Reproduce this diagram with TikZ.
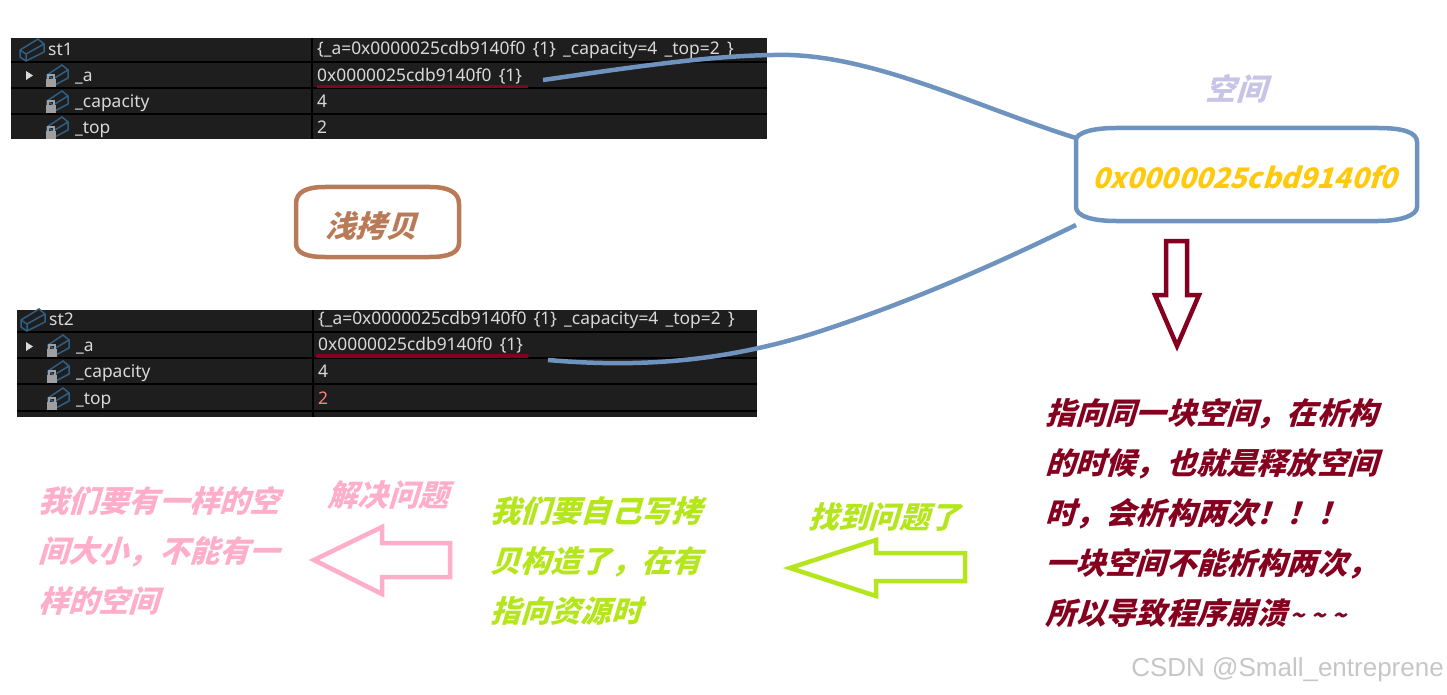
\documentclass[tikz,border=0pt]{standalone}
\usepackage{fontspec}
\setmainfont{Noto Sans}[WordSpace=1.6]
\newfontfamily\cjkfont[FakeSlant=0.3,BoldFeatures={FakeSlant=0.3}]{Noto Sans CJK SC}
\newfontfamily\markfont{Liberation Sans}
\definecolor{panelbg}{HTML}{1E1E1E}
\definecolor{linkblue}{HTML}{6F93BF}
\definecolor{wine}{HTML}{85001E}
\definecolor{brownish}{HTML}{B97A57}
\definecolor{lavender}{HTML}{C8C4E8}
\definecolor{amber}{HTML}{FFC90E}
\definecolor{pinkish}{HTML}{FFAEC9}
\definecolor{limey}{HTML}{B5E61D}
\definecolor{cubeblue}{HTML}{2F5F85}
\tikzset{
  rowtext/.style={anchor=west,inner sep=0pt,text height=15pt,text depth=4pt,text=white!85!black,font=\fontsize{17.4}{20}\selectfont},
  note/.style={inner sep=0pt,font=\cjkfont\bfseries\fontsize{30.2}{50}\selectfont},
  para/.style={note,anchor=north west,align=left},
  link/.style={draw=linkblue,line width=4.5pt},
  hollow/.style={line width=4.5pt,fill=white,line join=miter},
  varicon/.pic={
    \draw[cubeblue,line width=1.5pt] (-11,0) -- (7,-11) -- (13,-6) -- (13,2) -- (-5,11) -- (-11,7) -- cycle;
    \draw[cubeblue,line width=1.5pt] (-11,0) -- (-5,4) -- (13,-6) (-5,4) -- (-5,11);
  },
  lockicon/.pic={
    \draw[cubeblue,line width=1.5pt] (-9,-1) -- (6,-11) -- (12,-6) -- (12,2) -- (-3,10) -- (-9,6) -- cycle;
    \draw[cubeblue,line width=1.5pt] (-9,-1) -- (-3,3) -- (12,-6) (-3,3) -- (-3,10);
    \fill[gray!75] (-10,3) rectangle (0,11);
    \draw[gray!75,line width=1.2pt] (-8,3) -- (-8,-1) -- (-2,-1) -- (-2,3);
  }
}
\begin{document}
\begin{tikzpicture}[x=1pt,y=-1pt]
\useasboundingbox (0,0) rectangle (1447,695);
% first watch panel
\fill[panelbg] (11,38) rectangle (767,139);
\draw[black,line width=1.5pt] (11,62) -- (767,62) (11,88) -- (767,88) (11,114) -- (767,114) (312,38) -- (312,139);
\pic at (31,50) {varicon};
\pic at (56,76) {lockicon};
\pic at (56,102) {lockicon};
\pic at (56,128) {lockicon};
\fill[white!85!black] (26,71) -- (33,75.5) -- (26,80) -- cycle;
\node[rowtext] (stonename) at (48,50) {st1};
\node[rowtext] (stoneval) at (317,49) {\{\_a=0x0000025cdb9140f0 \{1\} \_capacity=4 \_top=2 \}};
\node[rowtext] (aname) at (75,76) {\_a};
\node[rowtext] (aval) at (317,76) {0x0000025cdb9140f0 \{1\}};
\node[rowtext] (capname) at (75,102) {\_capacity};
\node[rowtext] (capval) at (317,102) {4};
\node[rowtext] (topname) at (75,128) {\_top};
\node[rowtext] (topval) at (317,128) {2};
\draw[wine,line width=3pt] (317,87) -- (528,87);
% second watch panel
\fill[panelbg] (17,310) rectangle (757,417);
\draw[black,line width=1.5pt] (17,332) -- (757,332) (17,358) -- (757,358) (17,384) -- (757,384) (17,411) -- (757,411) (313,310) -- (313,417);
\pic at (32,320) {varicon};
\pic at (57,346) {lockicon};
\pic at (57,372) {lockicon};
\pic at (57,399) {lockicon};
\fill[white!85!black] (26,342) -- (33,346.5) -- (26,351) -- cycle;
\node[rowtext] (sttwoname) at (49,320) {st2};
\node[rowtext] (sttwoval) at (318,319) {\{\_a=0x0000025cdb9140f0 \{1\} \_capacity=4 \_top=2 \}};
\node[rowtext] (bname) at (76,346) {\_a};
\node[rowtext] (bval) at (318,345) {0x0000025cdb9140f0 \{1\}};
\node[rowtext] (bcapname) at (76,372) {\_capacity};
\node[rowtext] (bcapval) at (318,372) {4};
\node[rowtext] (btopname) at (76,399) {\_top};
\node[rowtext,text=red!50!white] (btopval) at (318,399) {2};
\draw[wine,line width=3.5pt,line cap=round] (317,356) -- (527,356);
% shallow copy tag
\draw[brownish,line width=4.5pt] (325,187) -- (430,187) .. controls (448,187) and (459,192) .. (459,204) -- (459,243) .. controls (459,253) and (448,257) .. (430,257) -- (325,257) .. controls (306,257) and (296,253) .. (296,243) -- (296,204) .. controls (296,192) and (306,187) .. (325,187) -- cycle;
\node[note,text=brownish] (shallow) at (371,226) {浅拷贝};
% the shared address
\node[note,text=lavender] (spacelabel) at (1236,89) {空间};
\node[minimum width=341pt,minimum height=93pt,text height=29pt,text depth=0pt,text=amber,note,outer sep=0pt] (addrbox) at (1244.5,174.5) {\fontsize{28.3}{30}\selectfont 0x0000025cbd9140f0};
\draw[link] (1116,128) -- (1378,128) .. controls (1402,128) and (1417,132) .. (1417,142) -- (1417,207) .. controls (1417,215) and (1402,221) .. (1378,221) -- (1116,221) .. controls (1092,221) and (1076,216) .. (1076,207) -- (1076,140) .. controls (1076,133) and (1092,128) .. (1116,128) -- cycle;
\coordinate (aend) at (543,80);
\coordinate (bend) at (548,360);
\draw[link] (aend) .. controls (640,66) and (720,54) .. (790,55) .. controls (880,58) and (980,108) .. ([xshift=2pt,yshift=-10pt]addrbox.north west);
\draw[link] (bend) .. controls (640,368) and (730,362) .. (830,328) .. controls (920,298) and (1000,262) .. ([xshift=2pt,yshift=-4pt]addrbox.south west);
% arrows
\draw[hollow,draw=wine] (1166,241) -- (1187,241) -- (1187,295) -- (1199,295) -- (1177,346) -- (1155,295) -- (1166,295) -- cycle;
\draw[hollow,draw=limey] (965,553) -- (965,581) -- (876,581) -- (876,596) -- (790,568) -- (876,540) -- (876,553) -- cycle;
\draw[hollow,draw=pinkish] (450,543) -- (450,577) -- (382,577) -- (382,594) -- (314,560) -- (382,527) -- (382,543) -- cycle;
% notes
\node[para,text=wine] (crash) at (1045,398) {指向同一块空间，在析构\\的时候，也就是释放空间\\时，会析构两次！！！\\一块空间不能析构两次，\\所以导致程序崩溃\hspace{3pt}{\fontsize{24}{50}\selectfont\textasciitilde\hspace{6pt}\textasciitilde\hspace{6pt}\textasciitilde}};
\node[note,text=limey] (found) at (884,517) {找到问题了};
\node[para,text=limey] (fix) at (490,496) {我们要自己写拷\\贝构造了，在有\\指向资源时};
\node[note,text=pinkish] (solve) at (388,495) {解决问题};
\node[para,text=pinkish] (same) at (38,486) {我们要有一样的空\\间大小，不能有一\\样的空间};
\node[anchor=east,inner sep=0pt,text=gray!45,font=\markfont\fontsize{26}{28}\selectfont] (mark) at (1444,670) {CSDN @Small\_entreprene};
\end{tikzpicture}
\end{document}
